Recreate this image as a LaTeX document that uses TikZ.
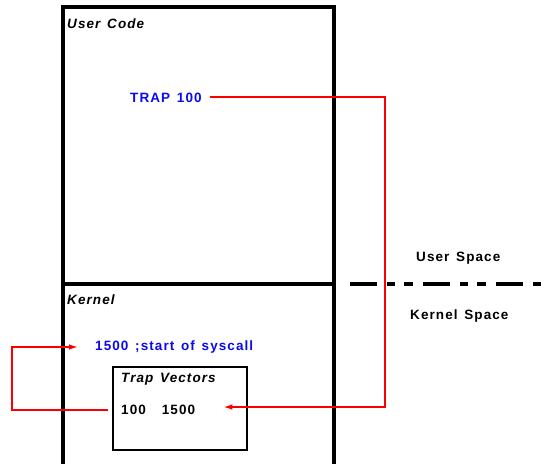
\documentclass[tikz,border=0pt]{standalone}
\usepackage{fontspec}
\setmainfont{Liberation Sans}[LetterSpace=8,WordSpace=1.4]
\usepackage{xcolor}
\usetikzlibrary{arrows.meta,positioning}
\definecolor{codeblue}{RGB}{10,10,240}
\definecolor{jumpred}{RGB}{250,0,0}
\tikzset{
	region/.style = {draw, line width=3.5pt},
	vecbox/.style = {draw, line width=1.8pt},
	title/.style = {font=\fontsize{13.5}{15}\selectfont\bfseries\itshape, anchor=west, inner sep=0pt},
	code/.style = {font=\fontsize{13.5}{15}\selectfont\bfseries, text=codeblue, anchor=west, inner sep=0pt},
	plain/.style = {font=\fontsize{13.5}{15}\selectfont\bfseries, anchor=west, inner sep=0pt},
	jump/.style = {draw=jumpred, line width=2.3pt, -{Latex[length=10pt,width=5.5pt]}},
	border/.style = {line width=4pt, dash pattern=on 27pt off 10pt on 8pt off 9pt on 9pt off 10pt}
}
\begin{document}
\begin{tikzpicture}[x=1pt, y=-1pt]
	\useasboundingbox (0,0) rectangle (545,463);

	% the two regions of memory
	\draw[region] (63,7) rectangle (334,284);
	\draw[region] (63,284) rectangle (334,470);
	\node[title] (ucode) at (67,24) {User Code};
	\node[title] (kern) at (67,300) {Kernel};

	% user space / kernel space boundary
	\coordinate (sepL) at (350,284);
	\coordinate (sepR) at (545,284);
	\draw[border] (sepL) -- (sepR);
	\node[plain] (uspace) at (416,258) {User Space};
	\node[plain] (kspace) at (410,316) {Kernel Space};

	% trap vector table
	\draw[vecbox] (113,367) rectangle (247,450);
	\node[title] (tvec) at (121,379) {Trap Vectors};
	\node[plain] (entry) at (121,410) {100\hspace{16pt}1500};

	% code
	\node[code] (trap) at (130,98) {TRAP 100};
	\node[code] (sys) at (95,347) {1500 ;start of syscall};

	% the jumps
	\coordinate (c1) at (385,97);
	\coordinate (c2) at (385,407);
	\coordinate (c3) at (12,410);
	\coordinate (c4) at (12,347);
	\draw[jump] ([xshift=8pt]trap.east |- c1) -- (c1) -- (c2) -- ([xshift=27pt]entry.east |- c2);
	\draw[jump] ([xshift=-13pt]entry.west) -- (c3) -- (c4) -- ([xshift=-16pt]sys.west);
\end{tikzpicture}
\end{document}
